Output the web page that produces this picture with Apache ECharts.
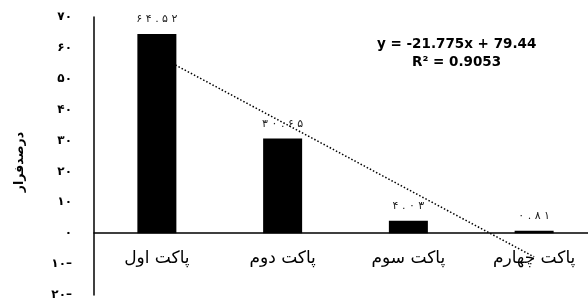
<!DOCTYPE html>
<html>
<head>
<meta charset="utf-8">
<script src="https://cdn.jsdelivr.net/npm/echarts@6/dist/echarts.min.js"></script>
<style>
	html, body { margin: 0; padding: 0; background: #fff; }
	#chart { width: 588px; height: 299px; }
</style>
</head>
<body>
<div id="chart"></div>
<script>
// data
var categories = ["پاکت اول", "پاکت دوم", "پاکت سوم", "پاکت چهارم"];
var values = [64.52, 30.65, 4.03, 0.81];
// linear trend shown on the chart: y = -21.775x + 79.44
var trendValues = [57.67, 35.89, 14.12, -7.66];
var yTicks = [-20, -10, 0, 10, 20, 30, 40, 50, 60, 70];

var faDigits = "۰۱۲۳۴۵۶۷۸۹";
function toFa(v) {
	var s = String(Math.abs(v)).replace(/[0-9]/g, function(d) {
		return faDigits[+d];
	});
	return v < 0 ? s + "–" : s;
}

var chart = echarts.init(document.getElementById("chart"));
var font = "DejaVu Sans";

chart.setOption({
	animation: false,
	textStyle: { fontFamily: font },
	grid: { left: 94, right: -9, top: 17, bottom: 4, outerBoundsMode: "none", containLabel: false },
	xAxis: {
		type: "category",
		data: categories,
		offset: -62,
		axisLine: { onZero: false, lineStyle: { color: "#000", width: 1.5 } },
		axisTick: { show: false },
		axisLabel: { color: "#000", fontSize: 17, margin: 17, fontFamily: font }
	},
	yAxis: {
		type: "value",
		min: yTicks[0],
		max: yTicks[yTicks.length - 1],
		interval: 10,
		name: "درصدفرار",
		nameLocation: "middle",
		nameRotate: 90,
		nameGap: 68,
		nameTextStyle: { color: "#000", fontSize: 12.5, fontWeight: "bold", fontFamily: font, padding: [0, 12, 0, 0] },
		axisLine: { show: true, lineStyle: { color: "#000", width: 1.5 } },
		axisTick: { show: false },
		splitLine: { show: false },
		axisLabel: {
			color: "#000",
			fontSize: 12,
			fontWeight: "bold",
			margin: 22,
			fontFamily: font,
			formatter: function(v) { return toFa(v); }
		}
	},
	series: [
		{
			type: "line",
			data: trendValues,
			symbol: "none",
			z: 1,
			lineStyle: { color: "#000", width: 1.5, type: [1.5, 2] }
		},
		{
			type: "bar",
			data: values,
			barWidth: 39,
			z: 2,
			itemStyle: { color: "#000" },
			label: {
				show: true,
				position: "top",
				distance: 9,
				color: "#222",
				fontSize: 11,
				fontFamily: font,
				formatter: function(p) { return toFa(p.value).split("").join(" "); }
			}
		}
	],
	graphic: [
		{
			type: "text",
			left: 377,
			top: 37,
			style: {
				text: "y = -21.775x + 79.44",
				font: "bold 13.5px " + font,
				fill: "#000"
			}
		},
		{
			type: "text",
			left: 412,
			top: 55,
			style: {
				text: "R² = 0.9053",
				font: "bold 13.5px " + font,
				fill: "#000"
			}
		}
	]
});
</script>
</body>
</html>
